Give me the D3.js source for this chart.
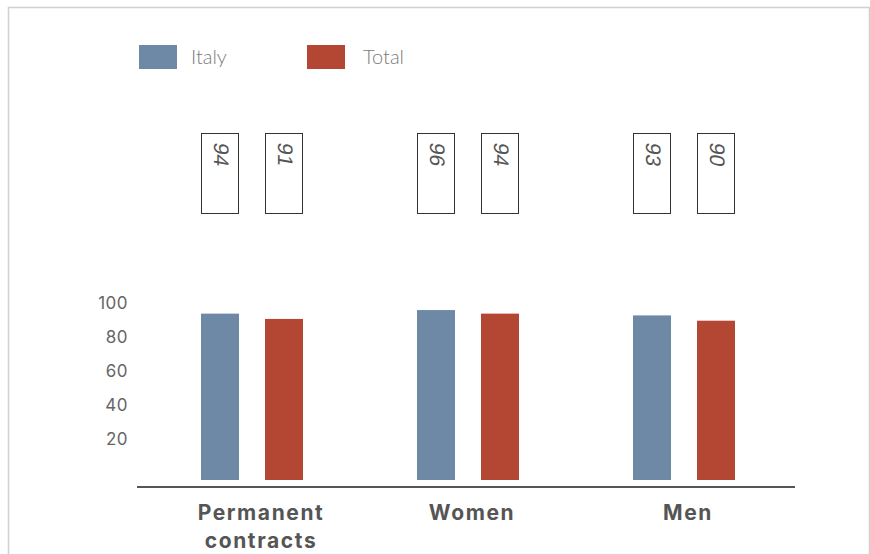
<!DOCTYPE html>
<html>
<head>
<meta charset="utf-8">
<script src="https://cdn.jsdelivr.net/npm/d3@7"></script>
<style>
  html, body { margin: 0; padding: 0; background: #fff; }
  svg { display: block; }
</style>
</head>
<body>
<svg id="chart" width="870" height="554"></svg>
<script>
const categories = [["Permanent", "contracts"], ["Women"], ["Men"]];
const categoryKeys = ["Permanent contracts", "Women", "Men"];
const seriesNames = ["Italy", "Total"];
const italyValues = [94, 96, 93];
const totalValues = [91, 94, 90];
const tickValues = [20, 40, 60, 80, 100];
const colors = ["#6d89a6", "#b34734"];

const svg = d3.select("#chart");

// frame
svg.append("path")
  .attr("d", "M8.5,554 V7.5 H869.5 V554")
  .attr("fill", "none").attr("stroke", "#d3cfca").attr("stroke-width", 1.5);

const x0 = d3.scaleBand().domain(categoryKeys).range([144, 792]).padding(0);
const x1 = d3.scaleBand().domain(seriesNames).range([57, 159]).paddingInner(0.40625).paddingOuter(0);
const y = d3.scaleLinear().domain([0, 100]).range([480, 303]);
const yAxisScale = d3.scaleLinear().domain([0, 100]).range([473, 303]);

const data = categoryKeys.map((c, i) => ({
  cat: c,
  values: [
    { s: "Italy", v: italyValues[i] },
    { s: "Total", v: totalValues[i] }
  ]
}));

// legend
const legend = svg.append("g");
seriesNames.forEach((s, i) => {
  const g = legend.append("g").attr("transform", `translate(${139 + i * 168},45)`);
  g.append("rect").attr("width", 38).attr("height", 24).attr("fill", colors[i]);
  g.append("text").attr("x", 52 + i * 4).attr("y", 12).attr("dy", "0.35em")
    .attr("font-family", "Lato, 'Open Sans', sans-serif").attr("font-weight", 300)
    .attr("font-size", 20).attr("fill", "#7a7a7a").text(s);
});

// y axis labels
const yAxis = d3.axisLeft(yAxisScale).tickValues(tickValues).tickSize(0).tickPadding(0);
const ya = svg.append("g").attr("transform", "translate(128,0)").call(yAxis);
ya.select(".domain").remove();
ya.selectAll("text")
  .attr("font-family", "Inter, 'Libre Franklin', sans-serif")
  .attr("font-size", 17).attr("letter-spacing", 0.5).attr("fill", "#666");

// groups
const groups = svg.selectAll("g.cat").data(data).join("g")
  .attr("class", "cat")
  .attr("transform", d => `translate(${x0(d.cat)},0)`);

groups.selectAll("rect.bar").data(d => d.values).join("rect")
  .attr("class", "bar")
  .attr("x", d => x1(d.s))
  .attr("width", x1.bandwidth())
  .attr("y", d => y(d.v))
  .attr("height", d => y(0) - y(d.v))
  .attr("fill", (d, i) => colors[i]);

// value boxes
const boxes = groups.selectAll("g.vbox").data(d => d.values).join("g")
  .attr("class", "vbox")
  .attr("transform", d => `translate(${x1(d.s)},133)`);
boxes.append("rect")
  .attr("x", 0.5).attr("y", 0.5)
  .attr("width", x1.bandwidth() - 1).attr("height", 80)
  .attr("fill", "#fff").attr("stroke", "#333").attr("stroke-width", 1);
boxes.append("text")
  .attr("transform", `translate(${x1.bandwidth() / 2 + 1},10) rotate(90) skewX(-10)`)
  .attr("dy", "0.35em")
  .attr("font-family", "'Liberation Sans', Arial, sans-serif")
  .attr("font-size", 21).attr("fill", "#555")
  .text(d => d.v);

// baseline
svg.append("line")
  .attr("x1", 137).attr("x2", 795).attr("y1", 487).attr("y2", 487)
  .attr("stroke", "#555").attr("stroke-width", 2);

// category labels
const xAxis = d3.axisBottom(x0).tickSize(0).tickFormat(() => "");
const xa = svg.append("g").attr("transform", "translate(0,487)").call(xAxis);
xa.select(".domain").remove();
xa.selectAll(".tick").each(function(d, i) {
  const t = d3.select(this).append("text")
    .attr("text-anchor", "middle")
    .attr("font-family", "Inter, 'Libre Franklin', sans-serif")
    .attr("font-weight", 700).attr("font-size", 21).attr("letter-spacing", 1.6)
    .attr("fill", "#555");
  categories[i].forEach((line, j) => {
    t.append("tspan").attr("x", i === 0 ? 9 : 4).attr("y", 33 + j * 28).text(line);
  });
});
</script>
</body>
</html>
